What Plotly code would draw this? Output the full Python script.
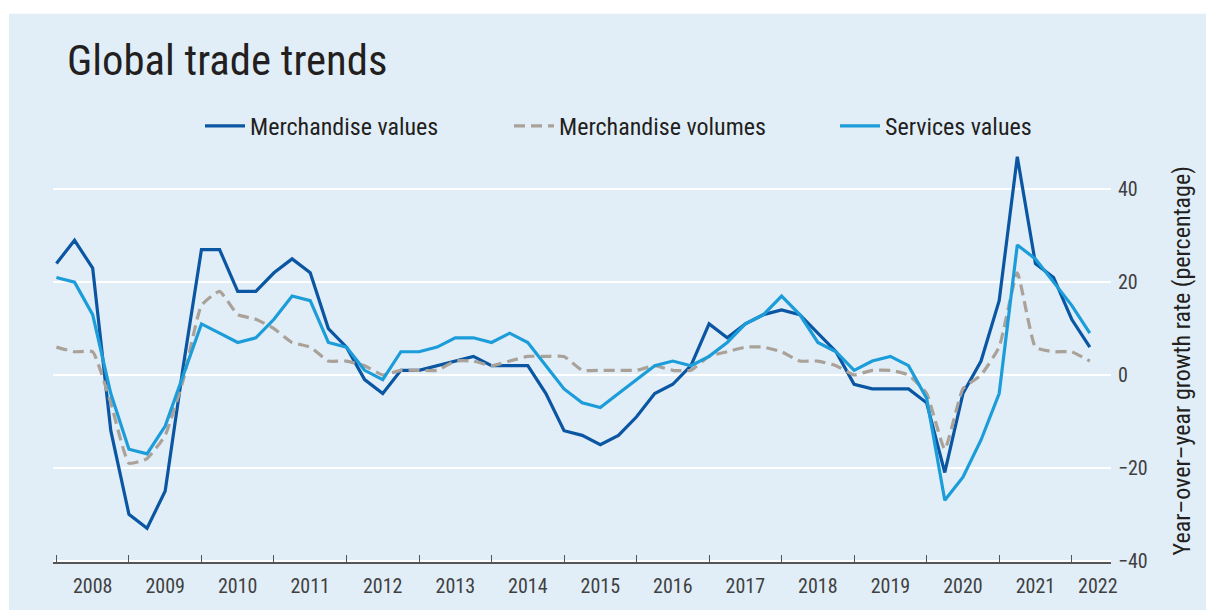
import plotly.graph_objects as go

# Quarterly data 2008 Q1 .. 2022 Q2 (year-over-year growth, %)
years = list(range(2008, 2023))
quarters = [y + q / 4 for y in range(2008, 2023) for q in range(4)][:58]

merch_values = [24, 29, 23, -12, -30, -33, -25, 2,
                27, 27, 18, 18, 22, 25, 22, 10,
                6, -1, -4, 1, 1, 2, 3, 4,
                2, 2, 2, -4, -12, -13, -15, -13,
                -9, -4, -2, 2, 11, 8, 11, 13,
                14, 13, 9, 5, -2, -3, -3, -3,
                -6, -21, -4, 3, 16, 47, 24, 21,
                12, 6]
merch_volumes = [6, 5, 5, -6, -19, -18, -13, -1,
                 15, 18, 13, 12, 10, 7, 6, 3,
                 3, 2, 0, 1, 1, 1, 3, 3,
                 2, 3, 4, 4, 4, 1, 1, 1,
                 1, 2, 1, 1, 4, 5, 6, 6,
                 5, 3, 3, 2, 0, 1, 1, 0,
                 -4, -16, -3, 0, 6, 22, 6, 5,
                 5, 3]
services_values = [21, 20, 13, -4, -16, -17, -11, 0,
                   11, 9, 7, 8, 12, 17, 16, 7,
                   6, 1, -1, 5, 5, 6, 8, 8,
                   7, 9, 7, 2, -3, -6, -7, -4,
                   -1, 2, 3, 2, 4, 7, 11, 13,
                   17, 13, 7, 5, 1, 3, 4, 2,
                   -5, -27, -22, -14, -4, 28, 25, 20,
                   15, 9]

year_labels = [str(y) for y in years]
label_pos = [y + 0.5 for y in years[:-1]] + [2022.36]
ytick_vals = [-40, -20, 0, 20, 40]
ytick_text = ["\u221240", "\u221220", "0", "20", "40"]
y_title = "Year\u2013over\u2013year growth rate (percentage)"

FONT = "Roboto Condensed, Liberation Sans Narrow, Arial Narrow, DejaVu Sans Condensed, sans-serif"
BG = "#e1eef8"
DARK = "#0b56a2"
LIGHT = "#1c9dd9"
GRAY = "#aaa198"

fig = go.Figure()
fig.add_trace(go.Scatter(x=quarters, y=merch_values, mode="lines", name="Merchandise values",
                         line=dict(color=DARK, width=3.2), legend="legend", showlegend=True))
fig.add_trace(go.Scatter(x=quarters, y=merch_volumes, mode="lines", name="Merchandise volumes",
                         line=dict(color=GRAY, width=3.2, dash="11px,6px", shape="spline", smoothing=0.4),
                         legend="legend2", showlegend=True))
fig.add_trace(go.Scatter(x=quarters, y=services_values, mode="lines", name="Services values",
                         line=dict(color=LIGHT, width=3.2), legend="legend3", showlegend=True))

# the page places the figure 8px from the window's top-left corner
OFF = 8
W, H = 1214 - OFF, 610 - OFF
ML, MR, MT, MB = 53 - OFF, 103, 150 - OFF, 43
pw = W - ML - MR
ph = H - MT - MB
Y_RANGE = [-40.28, 48.45]


def px2paper_x(px):
    return (px - OFF - ML) / pw


def px2paper_y(py):
    return (H - MB - (py - OFF)) / ph


leg_common = dict(orientation="h", bgcolor="rgba(0,0,0,0)", borderwidth=0,
                  font=dict(family=FONT, size=24, color="#231f20"),
                  itemwidth=40,
                  xanchor="left", yanchor="middle", y=px2paper_y(126))

fig.update_layout(
    width=W, height=H,
    margin=dict(l=ML, r=MR, t=MT, b=MB),
    paper_bgcolor="white",
    plot_bgcolor=BG,
    showlegend=True,
    font=dict(family=FONT, color="#404040"),
    title=dict(text="Global trade trends", x=(67 - OFF) / W, xref="container", xanchor="left",
               y=1 - (60 - OFF) / H, yref="container", yanchor="middle",
               font=dict(family=FONT, size=42.7, color="#231f20")),
    legend=dict(x=px2paper_x(200), **leg_common),
    legend2=dict(x=px2paper_x(509), **leg_common),
    legend3=dict(x=px2paper_x(835), **leg_common),
    xaxis=dict(range=[2007.953, 2022.542], tickmode="array", tickvals=label_pos,
               ticktext=year_labels, ticks="", showgrid=False, zeroline=False,
               showline=True, linecolor="#555555", linewidth=1.5,
               tickfont=dict(family=FONT, size=20, color="#404040"),
               ticklabelstandoff=5,
               minor=dict(tickmode="array", tickvals=years, ticks="inside", ticklen=7,
                          tickwidth=1.2, tickcolor="#555555", showgrid=False)),
    yaxis=dict(range=Y_RANGE, side="right", tickmode="array", tickvals=ytick_vals,
               ticktext=ytick_text, ticks="", showgrid=True, gridcolor="white", gridwidth=2,
               zeroline=False, showline=False,
               tickfont=dict(family=FONT, size=20, color="#404040"),
               ticklabelstandoff=6),
    annotations=[dict(text=y_title, textangle=-90, xref="paper", yref="paper",
                      x=px2paper_x(1182), y=px2paper_y(364), xanchor="center", yanchor="middle",
                      showarrow=False, font=dict(family=FONT, size=24, color="#231f20"))],
    shapes=[dict(type="rect", xref="paper", yref="paper", layer="below",
                 x0=px2paper_x(9), x1=px2paper_x(1400), y0=px2paper_y(800), y1=px2paper_y(12),
                 fillcolor=BG, line=dict(width=0))],
)

fig.write_html("out.html")
